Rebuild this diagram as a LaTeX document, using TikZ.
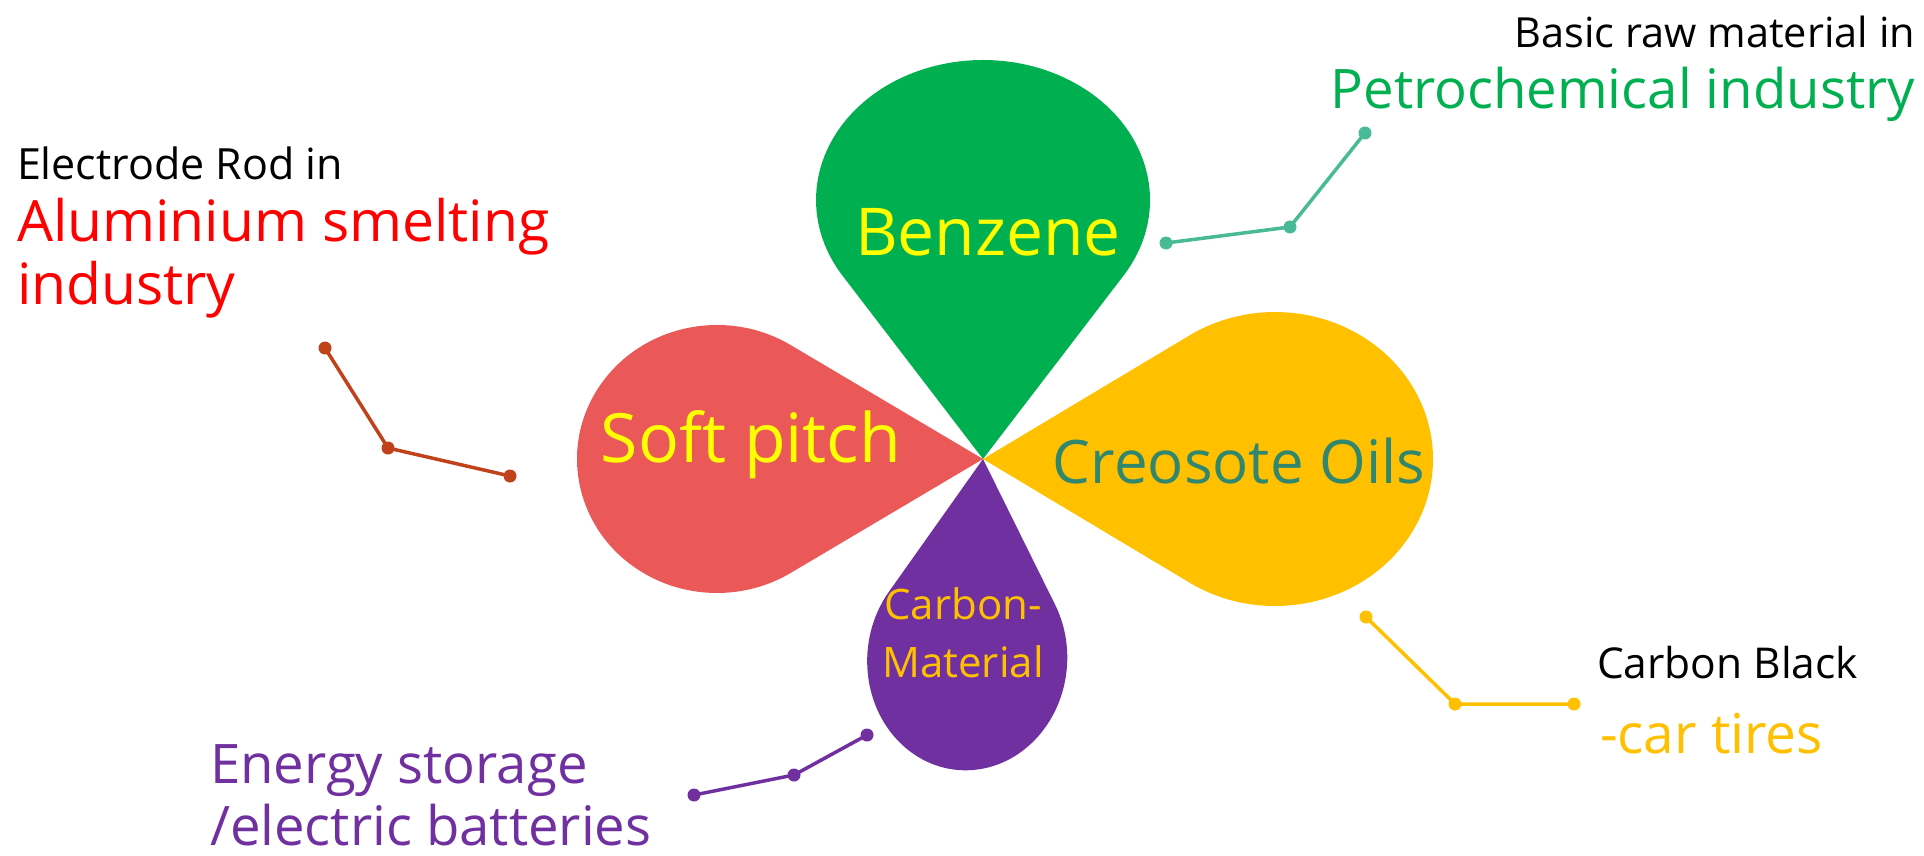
\documentclass[tikz,border=0pt]{standalone}
\usepackage{fontspec}
\setmainfont{Open Sans}
\usetikzlibrary{calc}
\definecolor{cGreen}{HTML}{00B050}
\definecolor{cRed}{HTML}{EB5858}
\definecolor{cGold}{HTML}{FFC000}
\definecolor{cPurple}{HTML}{7030A0}
\definecolor{cYel}{HTML}{FFFF00}
\definecolor{cTeal}{HTML}{31876E}
\definecolor{cLineG}{HTML}{48BA95}
\definecolor{cLineR}{HTML}{C0421B}
\definecolor{cAlu}{HTML}{FF0000}
\newcommand{\petal}[6]{% tip, angle, dist, along, perp, color
  \begin{scope}[shift={#1}, rotate=#2, xscale=#4, yscale=#5]
    \pgfmathsetmacro{\cc}{#3/#4}
    \pgfmathsetmacro{\al}{acos(1/\cc)}
    \fill[#6] (0,0) -- ($(\cc,0)+(180-\al:1)$) arc[start angle=180-\al, end angle=\al-180, radius=1] -- cycle;
  \end{scope}}
\tikzset{
  lbl/.style={inner sep=0pt, outer sep=0pt},
  conn/.style={line width=3.5pt},
  dotc/.style={circle, inner sep=0pt, minimum size=13pt},
}
\begin{document}
\begin{tikzpicture}[x=1pt, y=-1pt]
\useasboundingbox (0,0) rectangle (1924,856);
\coordinate (T) at (983,459);
% petals
\petal{(T)}{90}{259}{140}{167}{cGreen}
\petal{(T)}{180}{266}{140}{134}{cRed}
\petal{(T)}{0}{292}{158}{147}{cGold}
\petal{(T)}{-94.5}{201}{111}{100}{cPurple}
% petal labels
\node[lbl, anchor=base, text=cYel, font=\fontsize{66}{70}\selectfont] (benz) at (988,255) {Benzene};
\node[lbl, anchor=base, text=cYel, font=\fontsize{68}{72}\selectfont] (soft) at (751,462) {Soft pitch};
\node[lbl, anchor=base, text=cTeal, font=\fontsize{60}{62}\selectfont] (creo) at (1239,483) {Creosote Oils};
\node[lbl, anchor=base, text=cGold, font=\fontsize{42}{58}\selectfont, align=center] (carb) at (963,677) {Carbon-\\Material};
% outer labels
\node[lbl, anchor=base east, font=\fontsize{41.5}{45}\selectfont] (basic) at (1915,48) {Basic raw material in};
\node[lbl, anchor=base east, text=cGreen, font=\fontsize{54.5}{58}\selectfont] (petro) at (1915,109) {Petrochemical industry};
\node[lbl, anchor=base west, font=\fontsize{43}{47}\selectfont] (elec) at (17,179) {Electrode Rod in};
\node[lbl, anchor=base west, text=cAlu, font=\fontsize{57}{63}\selectfont, align=left] (alu) at (17,304) {Aluminium smelting\\industry};
\node[lbl, anchor=base west, font=\fontsize{42.5}{45}\selectfont] (cblack) at (1597,678) {Carbon Black};
\node[lbl, anchor=base west, text=cGold, font=\fontsize{55}{58}\selectfont] (tires) at (1600,753) {-car tires};
\node[lbl, anchor=base west, text=cPurple, font=\fontsize{54.5}{62}\selectfont, align=left] (energy) at (210,845) {Energy storage\\/electric batteries};
% connectors
\coordinate (g1) at (1166,243); \coordinate (g2) at (1290,227); \coordinate (g3) at (1365,133);
\coordinate (r1) at (325,348); \coordinate (r2) at (388,448); \coordinate (r3) at (510,476);
\coordinate (p1) at (867,735); \coordinate (p2) at (794,775); \coordinate (p3) at (694,795);
\coordinate (y1) at (1366,617); \coordinate (y2) at (1455,704); \coordinate (y3) at (1574,704);
\draw[conn, cLineG] (g1) -- (g2) -- (g3);
\draw[conn, cLineR] (r1) -- (r2) -- (r3);
\draw[conn, cPurple] (p1) -- (p2) -- (p3);
\draw[conn, cGold] (y1) -- (y2) -- (y3);
\foreach \c in {g1,g2,g3} \node[dotc, fill=cLineG] at (\c) {};
\foreach \c in {r1,r2,r3} \node[dotc, fill=cLineR] at (\c) {};
\foreach \c in {p1,p2,p3} \node[dotc, fill=cPurple] at (\c) {};
\foreach \c in {y1,y2,y3} \node[dotc, fill=cGold] at (\c) {};
\end{tikzpicture}
\end{document}
